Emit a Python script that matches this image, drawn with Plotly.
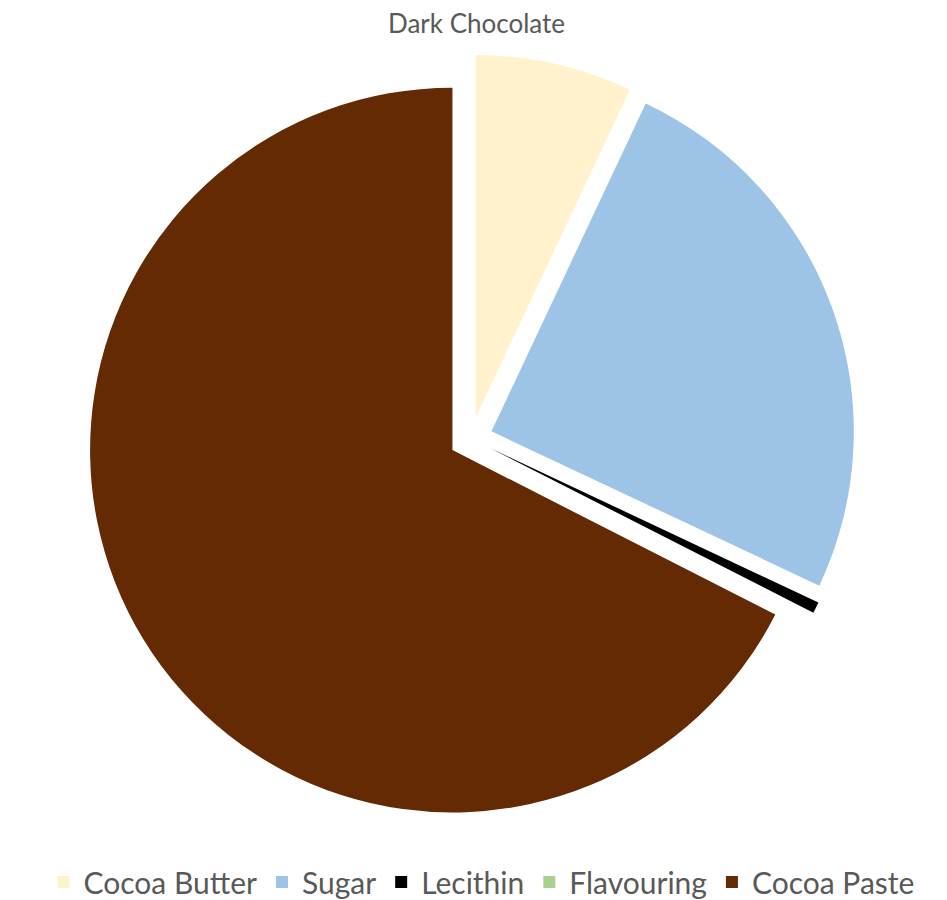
import plotly.graph_objects as go

ingredients = ["Cocoa Butter", "Sugar", "Lecithin", "Flavouring", "Cocoa Paste"]
share = [7.0, 25.0, 0.5, 0.0, 67.5]
colours = ["#FFF2CC", "#9DC3E6", "#000000", "#A9D18E", "#632A04"]
pulls = [0.06, 0.06, 0.06, 0.06, 0.06]

fig = go.Figure(go.Pie(
    labels=ingredients,
    values=share,
    sort=False,
    direction="clockwise",
    rotation=0,
    pull=pulls,
    marker=dict(colors=colours, line=dict(width=0)),
    textinfo="none",
    hoverinfo="label+value",
    domain=dict(x=[0.0792, 0.8986], y=[0.0855, 0.9477]),
))

# chart title as a paper annotation so it sits right at the top edge
fig.add_annotation(text="Dark Chocolate", x=0.495, y=1, xref="paper", yref="paper",
                   xanchor="center", yanchor="top", yshift=3, showarrow=False,
                   font=dict(size=26, color="#595959"))

fig.update_layout(
    width=947,
    height=900,
    margin=dict(l=0, r=0, t=0, b=0),
    paper_bgcolor="white",
    font=dict(family="Lato", color="#595959"),
    legend=dict(orientation="h", x=0.5, y=0.019, xanchor="center", yanchor="middle",
                font=dict(size=30, color="#595959"), itemwidth=30),
)

fig.write_html("out.html")
